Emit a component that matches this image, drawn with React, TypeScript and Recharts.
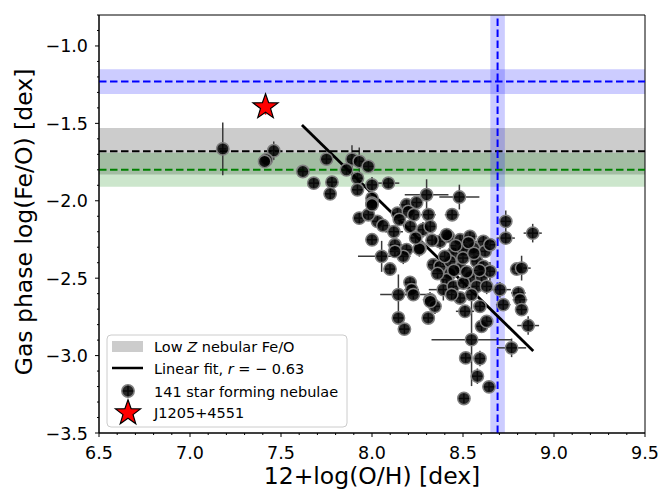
import React from 'react'
import { ScatterChart, Scatter, XAxis, YAxis, ErrorBar, ReferenceArea, ReferenceLine } from 'recharts'

// 12+log(O/H) of the nebulae
const ohVals = [
  7.18, 7.46, 7.42, 7.41, 7.75, 7.62, 7.68, 7.78, 7.77, 7.89,
  7.93, 7.98, 7.86, 7.92, 8.00, 8.09, 7.92, 8.00, 8.00, 7.93,
  8.03, 7.98, 8.14, 8.30, 8.48, 8.00, 8.19, 8.245, 8.20, 8.23,
  8.31, 8.44, 8.21, 8.28, 8.32, 8.735, 8.735, 8.883, 8.00, 8.126,
  8.19, 8.264, 8.374, 8.419, 8.484, 8.538, 8.612, 8.053, 8.172, 8.447,
  8.557, 8.621, 8.099, 8.337, 8.374, 8.429, 8.484, 8.575, 8.612, 8.795,
  8.822, 8.429, 8.538, 8.602, 8.209, 8.218, 8.227, 8.145, 8.41, 8.392,
  8.447, 8.502, 8.575, 8.63, 8.703, 8.804, 8.813, 8.319, 8.484, 8.438,
  8.721, 8.346, 8.309, 8.145, 8.178, 8.511, 8.593, 8.822, 8.858, 8.602,
  8.63, 8.547, 8.767, 8.515, 8.593, 8.579, 8.643, 8.505, 8.126, 8.26,
  8.41, 8.502, 8.648, 8.648, 8.547, 8.32, 8.33, 8.46, 8.53, 8.40,
  8.50, 8.56, 8.45, 8.36, 8.52, 8.59, 8.06, 8.15, 8.24, 8.12,
]
// log(Fe/O) of the nebulae
const feoVals = [
  -1.665, -1.677, -1.735, -1.746, -1.731, -1.811, -1.886, -1.88, -1.955, -1.731,
  -1.746, -1.778, -1.80, -1.854, -1.897, -1.886, -1.929, -1.983, -2.015, -2.112,
  -2.133, -2.09, -2.08, -1.961, -1.976, -2.026, -2.026, -2.011, -2.069, -2.09,
  -2.09, -2.09, -2.166, -2.187, -2.166, -2.133, -2.241, -2.209, -2.252, -2.284,
  -2.316, -2.305, -2.263, -2.23, -2.252, -2.23, -2.263, -2.359, -2.359, -2.337,
  -2.305, -2.327, -2.441, -2.413, -2.424, -2.392, -2.435, -2.392, -2.424, -2.441,
  -2.435, -2.47, -2.492, -2.492, -2.527, -2.574, -2.606, -2.606, -2.51, -2.574,
  -2.553, -2.531, -2.553, -2.553, -2.574, -2.595, -2.639, -2.639, -2.628, -2.606,
  -2.671, -2.682, -2.757, -2.757, -2.829, -2.714, -2.682, -2.703, -2.806, -2.811,
  -2.779, -2.897, -2.95, -3.015, -3.019, -3.133, -3.202, -3.277, -2.327, -2.311,
  -2.219, -2.316, -2.284, -2.456, -2.606, -2.65, -2.255, -2.29, -2.27, -2.36,
  -2.37, -2.34, -2.45, -2.47, -2.46, -2.45, -2.16, -2.12, -2.24, -2.20,
]
const ohErr = [
  0.02, 0.04, 0.02, 0.02, 0.03, 0.03, 0.03, 0.03, 0.03, 0.03,
  0.04, 0.03, 0.03, 0.03, 0.03, 0.06, 0.03, 0.03, 0.03, 0.03,
  0.03, 0.03, 0.03, 0.12, 0.11, 0.03, 0.04, 0.03, 0.03, 0.03,
  0.04, 0.04, 0.04, 0.03, 0.03, 0.03, 0.05, 0.05, 0.03, 0.04,
  0.03, 0.03, 0.03, 0.04, 0.04, 0.04, 0.06, 0.13, 0.04, 0.03,
  0.03, 0.03, 0.03, 0.03, 0.03, 0.03, 0.04, 0.03, 0.03, 0.03,
  0.05, 0.03, 0.03, 0.05, 0.03, 0.04, 0.09, 0.10, 0.03, 0.08,
  0.03, 0.03, 0.03, 0.03, 0.06, 0.04, 0.04, 0.04, 0.03, 0.03,
  0.04, 0.03, 0.03, 0.03, 0.03, 0.05, 0.03, 0.03, 0.06, 0.03,
  0.03, 0.22, 0.08, 0.03, 0.03, 0.03, 0.03, 0.03, 0.03, 0.03,
  0.04, 0.03, 0.03, 0.03, 0.03, 0.03, 0.03, 0.03, 0.03, 0.03,
  0.03, 0.03, 0.03, 0.03, 0.03, 0.03, 0.04, 0.03, 0.03, 0.05,
]
const feoErr = [
  0.17, 0.06, 0.03, 0.02, 0.03, 0.03, 0.03, 0.04, 0.04, 0.09,
  0.09, 0.04, 0.03, 0.04, 0.05, 0.03, 0.03, 0.04, 0.03, 0.04,
  0.04, 0.03, 0.03, 0.10, 0.08, 0.03, 0.03, 0.03, 0.03, 0.04,
  0.03, 0.03, 0.04, 0.05, 0.04, 0.07, 0.04, 0.06, 0.03, 0.03,
  0.04, 0.04, 0.05, 0.04, 0.03, 0.03, 0.04, 0.10, 0.05, 0.03,
  0.04, 0.03, 0.03, 0.03, 0.04, 0.03, 0.03, 0.04, 0.03, 0.04,
  0.08, 0.03, 0.03, 0.06, 0.03, 0.03, 0.03, 0.13, 0.04, 0.07,
  0.03, 0.03, 0.04, 0.05, 0.05, 0.04, 0.03, 0.05, 0.03, 0.03,
  0.04, 0.05, 0.03, 0.03, 0.03, 0.04, 0.03, 0.03, 0.06, 0.03,
  0.03, 0.30, 0.06, 0.03, 0.05, 0.05, 0.03, 0.03, 0.03, 0.05,
  0.04, 0.03, 0.04, 0.06, 0.03, 0.03, 0.03, 0.03, 0.03, 0.03,
  0.03, 0.03, 0.03, 0.03, 0.03, 0.03, 0.03, 0.04, 0.03, 0.03,
]

// J1205+4551
const starOH = [7.415]
const starFeO = [-1.394]
const starErr = [0.05]

// linear fit end points
const fitOH = [7.615, 8.886]
const fitFeO = [-1.51, -2.97]

// reference values (centre, low, high)
const solarFeO = [-1.23, -1.31, -1.15]
const lowZFeO = [-1.68, -1.83, -1.53]
const greenFeO = [-1.80, -1.91, -1.69]
const solarOH = [8.69, 8.65, 8.73]

const xTicks = [6.5, 6.6, 6.7, 6.8, 6.9, 7.0, 7.1, 7.2, 7.3, 7.4, 7.5, 7.6, 7.7, 7.8, 7.9, 8.0, 8.1, 8.2, 8.3, 8.4, 8.5, 8.6, 8.7, 8.8, 8.9, 9.0, 9.1, 9.2, 9.3, 9.4, 9.5]
const xMajor = [6.5, 7.0, 7.5, 8.0, 8.5, 9.0, 9.5]
const yTicks = [-3.5, -3.4, -3.3, -3.2, -3.1, -3.0, -2.9, -2.8, -2.7, -2.6, -2.5, -2.4, -2.3, -2.2, -2.1, -2.0, -1.9, -1.8, -1.7, -1.6, -1.5, -1.4, -1.3, -1.2, -1.1, -1.0, -0.9, -0.8]
const yMajor = [-3.5, -3.0, -2.5, -2.0, -1.5, -1.0]

const FONT = '"DejaVu Sans", sans-serif'

const nebulae = ohVals.map((x, i) => ({ x, y: feoVals[i], ex: ohErr[i], ey: feoErr[i] }))
const star = starOH.map((x, i) => ({ x, y: starFeO[i], ey: starErr[i] }))

const starPoints = (cx: number, cy: number, R: number, r: number) => {
  const pts: string[] = []
  for (let k = 0; k < 10; k++) {
    const rad = k % 2 === 0 ? R : r
    const a = -Math.PI / 2 + (k * Math.PI) / 5
    pts.push(`${cx + rad * Math.cos(a)},${cy + rad * Math.sin(a)}`)
  }
  return pts.join(' ')
}

const Dot = (p: any) => (
  <circle cx={p.cx} cy={p.cy} r={6.2} fill="#000" fillOpacity={0.85} stroke="#808080" strokeWidth={1.5} />
)

const Star = (p: any) => (
  <polygon points={starPoints(p.cx, p.cy, 13.2, 5.3)} fill="#ff0000" stroke="#000" strokeWidth={1.2} />
)

const isMajor = (v: number, list: number[]) => list.some(m => Math.abs(m - v) < 1e-6)

const XTick = ({ x, y, payload }: any) => {
  const major = isMajor(payload.value, xMajor)
  return (
    <g>
      <line x1={x} x2={x} y1={y} y2={y + (major ? 4 : 2)} stroke="#000" strokeWidth={1} />
      {major && (
        <text x={x} y={y + 26} textAnchor="middle" fontSize={17.5} fontFamily={FONT} fill="#000">
          {payload.value.toFixed(1)}
        </text>
      )}
    </g>
  )
}

const YTick = ({ x, y, payload }: any) => {
  const major = isMajor(payload.value, yMajor)
  const v = payload.value as number
  return (
    <g>
      <line x1={x} x2={x - (major ? 4 : 2)} y1={y} y2={y} stroke="#000" strokeWidth={1} />
      {major && (
        <text x={x - 11} y={y + 6.5} textAnchor="end" fontSize={17.5} fontFamily={FONT} fill="#000">
          {(v < 0 ? '\u2212' : '') + Math.abs(v).toFixed(1)}
        </text>
      )}
    </g>
  )
}

const Legend = () => (
  <svg width={244} height={96} style={{ position: 'absolute', left: 105, top: 333 }}>
    <rect x={2} y={2} width={240} height={92} rx={4} fill="#fff" fillOpacity={0.8} stroke="#cccccc" strokeWidth={1} />
    <g fontFamily={FONT} fontSize={14.5} fill="#000">
      <rect x={7} y={8} width={31} height={11} fill="#cccccc" />
      <text x={49} y={19}>Low <tspan fontStyle="italic">Z</tspan> nebular Fe/O</text>
      <line x1={7} x2={38} y1={35} y2={35} stroke="#000" strokeWidth={2.5} />
      <text x={49} y={41}>Linear fit, <tspan fontStyle="italic">r</tspan> = {'\u2212'} 0.63</text>
      <line x1={23} x2={23} y1={52} y2={64} stroke="#3a3a3a" strokeWidth={1.5} />
      <line x1={17} x2={29} y1={58} y2={58} stroke="#3a3a3a" strokeWidth={1.5} />
      <circle cx={23} cy={58} r={6.2} fill="#000" fillOpacity={0.85} stroke="#808080" strokeWidth={1.5} />
      <text x={49} y={64}>141 star forming nebulae</text>
      <polygon points={starPoints(23, 80, 13.2, 5.3)} fill="#ff0000" stroke="#000" strokeWidth={1.2} />
      <text x={49} y={85}>J1205+4551</text>
    </g>
  </svg>
)

export default function App() {
  return (
    <div style={{ position: 'absolute', left: 0, top: 0, width: 664, height: 490, background: '#fff' }}>
      <ScatterChart width={664} height={490} margin={{ top: 15, right: 19, bottom: 0, left: 0 }}>
        <XAxis
          type="number"
          dataKey="x"
          domain={[6.5, 9.5]}
          allowDataOverflow
          ticks={xTicks}
          interval={0}
          tickSize={0}
          tickMargin={0}
          tickLine={false}
          tick={<XTick />}
          height={57}
          axisLine={{ stroke: '#000' }}
          label={() => (
            <text x={372} y={484} textAnchor="middle" fontSize={23.5} fontFamily={FONT} fill="#000">
              12+log(O/H) [dex]
            </text>
          )}
        />
        <YAxis
          type="number"
          dataKey="y"
          domain={[-3.5, -0.8]}
          allowDataOverflow
          ticks={yTicks}
          interval={0}
          tickSize={0}
          tickMargin={0}
          tickLine={false}
          tick={<YTick />}
          width={99}
          axisLine={{ stroke: '#000' }}
          label={() => (
            <text x={32} y={222} transform="rotate(-90 32 222)" textAnchor="middle" fontSize={23.5} fontFamily={FONT} fill="#000">
              Gas phase log(Fe/O) [dex]
            </text>
          )}
        />
        <ReferenceArea y1={solarFeO[1]} y2={solarFeO[2]} fill="#0000ff" fillOpacity={0.2} stroke="none" />
        <ReferenceArea y1={lowZFeO[1]} y2={lowZFeO[2]} fill="#808080" fillOpacity={0.4} stroke="none" />
        <ReferenceArea y1={greenFeO[1]} y2={greenFeO[2]} fill="#008000" fillOpacity={0.2} stroke="none" />
        <ReferenceArea x1={solarOH[1]} x2={solarOH[2]} fill="#0000ff" fillOpacity={0.2} stroke="none" />
        <Scatter data={nebulae} shape={<Dot />} isAnimationActive={false}>
          <ErrorBar dataKey="ex" direction="x" width={0} stroke="#3a3a3a" strokeWidth={1.5} />
          <ErrorBar dataKey="ey" direction="y" width={0} stroke="#3a3a3a" strokeWidth={1.5} />
        </Scatter>
        <ReferenceLine y={solarFeO[0]} stroke="#0000ff" strokeWidth={2} strokeDasharray="7.5 3.5" />
        <ReferenceLine y={lowZFeO[0]} stroke="#000" strokeWidth={2} strokeDasharray="7.5 3.5" />
        <ReferenceLine y={greenFeO[0]} stroke="#008000" strokeWidth={2} strokeDasharray="7.5 3.5" />
        <ReferenceLine x={solarOH[0]} stroke="#0000ff" strokeWidth={2} strokeDasharray="7.5 3.5" />
        <ReferenceLine
          segment={[{ x: fitOH[0], y: fitFeO[0] }, { x: fitOH[1], y: fitFeO[1] }]}
          stroke="#000"
          strokeWidth={2.8}
        />
        <Scatter data={star} shape={<Star />} isAnimationActive={false}>
          <ErrorBar dataKey="ey" direction="y" width={0} stroke="#ff0000" strokeWidth={1.5} />
        </Scatter>
        <ReferenceArea x1={6.5} x2={9.5} y1={-3.5} y2={-0.8} fill="none" stroke="#000" strokeWidth={1} />
      </ScatterChart>
      <Legend />
    </div>
  )
}
